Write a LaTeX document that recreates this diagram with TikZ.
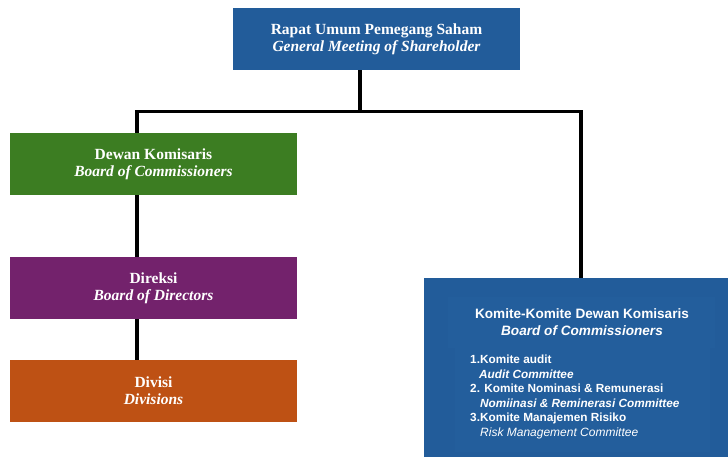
\documentclass[tikz,border=0pt]{standalone}
\usepackage{fontspec}
\setmainfont{Liberation Serif}
\newfontfamily\kfont{Liberation Sans}
\definecolor{rblue}{HTML}{225C9A}
\definecolor{rblueb}{HTML}{235E9C}
\definecolor{rgreen}{HTML}{3C7D22}
\definecolor{rpurple}{HTML}{73226C}
\definecolor{rorange}{HTML}{BE5114}
\tikzset{
  orgbox/.style={draw=none, minimum width=287pt, minimum height=62pt, inner sep=0pt,
    text=white, align=center, font=\fontsize{15.5}{17}\selectfont\bfseries},
  link/.style={line width=3.8pt, draw=black},
  ktext/.style={anchor=base west, inner sep=0pt, text=white, font=\kfont\fontsize{11.8}{12}\selectfont\bfseries},
}
\begin{document}
\begin{tikzpicture}[x=1pt,y=-1pt]
\useasboundingbox (0,0) rectangle (728,457);
% boxes
\node[orgbox, fill=rblue] (rups) at (376.5,39) {Rapat Umum Pemegang Saham\\\itshape General Meeting of Shareholder};
\node[orgbox, fill=rgreen] (dk) at (153.5,164) {Dewan Komisaris\\\itshape Board of Commissioners};
\node[orgbox, fill=rpurple] (dir) at (153.5,288) {Direksi\\\itshape Board of Directors};
\node[orgbox, fill=rorange] (div) at (153.5,391) {Divisi\\\itshape Divisions};
\node[draw=none, fill=rblue, minimum width=304pt, minimum height=179pt, inner sep=0pt] (kom) at (576,367.5) {};
\fill[rblueb] (448,297) rectangle (715,348);
\fill[rblueb] (455,348) rectangle (710,452);
% connectors
\coordinate (j0) at (360,111.5);
\coordinate (jl) at (137,111.5);
\coordinate (jr) at (581,111.5);
\draw[link] (rups.south -| j0) -- (j0);
\draw[link] ([xshift=-1.9pt]jl) -- ([xshift=1.9pt]jr);
\draw[link] (jl) -- (jl |- dk.north);
\draw[link] (jr) -- (jr |- kom.north);
\draw[link] (dk.south -| jl) -- (dir.north -| jl);
\draw[link] (dir.south -| jl) -- (div.north -| jl);
% committee text
\node[text=white, align=center, inner sep=0pt, font=\kfont\fontsize{13.6}{17}\selectfont\bfseries] (kt) at (582,322) {Komite-Komite Dewan Komisaris\\\itshape Board of Commissioners};
\node[ktext] (k1) at (470,363) {1.Komite audit};
\node[ktext] (k1e) at (479,378) {\itshape Audit Committee};
\node[ktext] (k2) at (470,392) {2. Komite Nominasi \& Remunerasi};
\node[ktext] (k2e) at (480,407) {\itshape Nomiinasi \& Reminerasi Committee};
\node[ktext] (k3) at (470,421) {3.Komite Manajemen Risiko};
\node[ktext, font=\kfont\fontsize{12}{12}\selectfont\mdseries\itshape] (k3e) at (480,436) {Risk Management Committee};
\end{tikzpicture}
\end{document}
